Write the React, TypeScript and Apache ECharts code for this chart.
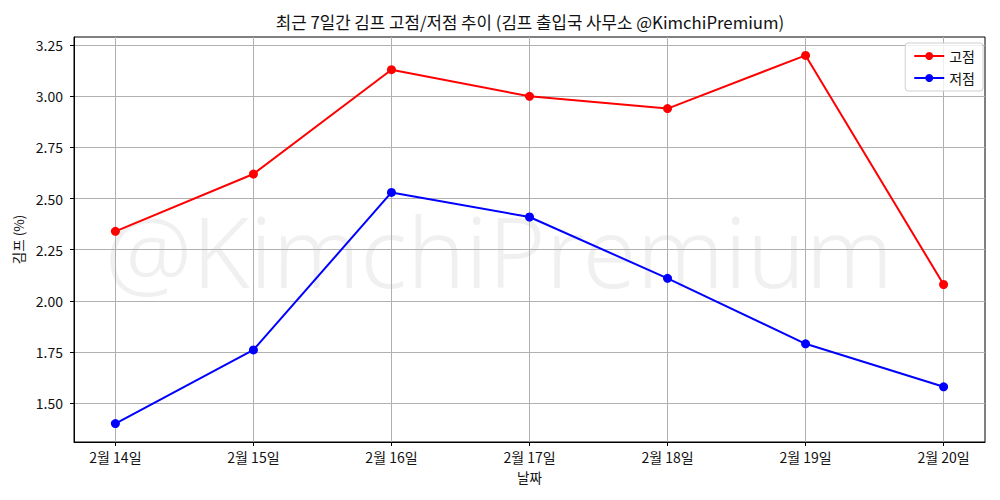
import React, { useEffect, useRef } from "react";
import * as echarts from "echarts";

const categories = ["2월 14일", "2월 15일", "2월 16일", "2월 17일", "2월 18일", "2월 19일", "2월 20일"];
const highValues = [2.34, 2.62, 3.13, 3.0, 2.94, 3.2, 2.08];
const lowValues = [1.4, 1.76, 2.53, 2.41, 2.11, 1.79, 1.58];
const yTicks = [1.5, 1.75, 2.0, 2.25, 2.5, 2.75, 3.0, 3.25];
const xTicks = [0, 1, 2, 3, 4, 5, 6];

const FONT = "'Noto Sans CJK KR', 'Noto Sans', sans-serif";

export default function App() {
  const ref = useRef<HTMLDivElement>(null);
  useEffect(() => {
    if (!ref.current) return;
    const chart = echarts.init(ref.current, undefined, { renderer: "svg" });
    chart.setOption({
      animation: false,
      backgroundColor: "#ffffff",
      textStyle: { fontFamily: FONT },
      grid: {
        left: 74,
        right: 15,
        top: 37,
        bottom: 58,
        containLabel: false,
        show: true,
        borderColor: "#000",
        borderWidth: 1,
        backgroundColor: "transparent",
      },
      graphic: [
        {
          type: "text",
          x: 499,
          y: 250,
          z: -10,
          silent: true,
          style: {
            text: "@KimchiPremium",
            textAlign: "center",
            textVerticalAlign: "middle",
            font: `300 98px 'Noto Sans', sans-serif`,
            fill: "rgba(128,128,128,0.12)",
          },
        },
        {
          type: "text",
          x: 530,
          y: 22,
          silent: true,
          style: {
            text: "최근 7일간 김프 고점/저점 추이 (김프 출입국 사무소 @KimchiPremium)",
            textAlign: "center",
            textVerticalAlign: "middle",
            font: `16.8px ${FONT}`,
            fill: "#111",
          },
        },
      ],
      legend: {
        orient: "vertical",
        right: 17,
        top: 43,
        itemWidth: 30,
        itemHeight: 10,
        itemGap: 8,
        padding: [6, 8, 6, 8],
        borderColor: "#d0d0d0",
        borderWidth: 1,
        borderRadius: 3,
        backgroundColor: "rgba(255,255,255,0.8)",
        textStyle: { fontFamily: FONT, fontSize: 14, color: "#111" },
        data: ["고점", "저점"],
      },
      xAxis: {
        type: "value",
        min: -0.3,
        max: 6.3,
        minInterval: 1,
        maxInterval: 1,
        name: "날짜",
        nameLocation: "middle",
        nameGap: 28,
        nameTextStyle: { fontFamily: FONT, fontSize: 13.5, color: "#111" },
        axisLine: { show: true, onZero: false, lineStyle: { color: "#000", width: 1 } },
        axisTick: { show: true, length: 4, lineStyle: { color: "#000" }, customValues: xTicks },
        axisLabel: {
          customValues: xTicks,
          margin: 8,
          fontFamily: FONT,
          fontSize: 14,
          color: "#111",
          formatter: (v: number) => categories[Math.round(v)] ?? "",
        },
        splitLine: { show: true, lineStyle: { color: "#b0b0b0", width: 1 } },
      },
      yAxis: {
        type: "value",
        min: 1.31,
        max: 3.29,
        minInterval: 0.25,
        maxInterval: 0.25,
        name: "김프 (%)",
        nameLocation: "middle",
        nameGap: 49,
        nameRotate: 90,
        nameTextStyle: { fontFamily: FONT, fontSize: 13.5, color: "#111" },
        axisLine: { show: true, onZero: false, lineStyle: { color: "#000", width: 1 } },
        axisTick: { show: true, length: 4, lineStyle: { color: "#000" }, customValues: yTicks },
        axisLabel: {
          customValues: yTicks,
          margin: 11,
          fontFamily: FONT,
          fontSize: 14,
          color: "#111",
          formatter: (v: number) => v.toFixed(2),
        },
        splitLine: { show: true, lineStyle: { color: "#b0b0b0", width: 1 } },
      },
      series: [
        {
          name: "고점",
          type: "line",
          data: highValues.map((v, i) => [i, v]),
          symbol: "circle",
          symbolSize: 9,
          lineStyle: { color: "#ff0000", width: 2 },
          itemStyle: { color: "#ff0000" },
          z: 5,
        },
        {
          name: "저점",
          type: "line",
          data: lowValues.map((v, i) => [i, v]),
          symbol: "circle",
          symbolSize: 9,
          lineStyle: { color: "#0000ff", width: 2 },
          itemStyle: { color: "#0000ff" },
          z: 5,
        },
      ],
    });
    return () => chart.dispose();
  }, []);
  return (
    <div
      ref={ref}
      style={{ position: "absolute", left: 0, top: 0, width: 1000, height: 500 }}
    />
  );
}
